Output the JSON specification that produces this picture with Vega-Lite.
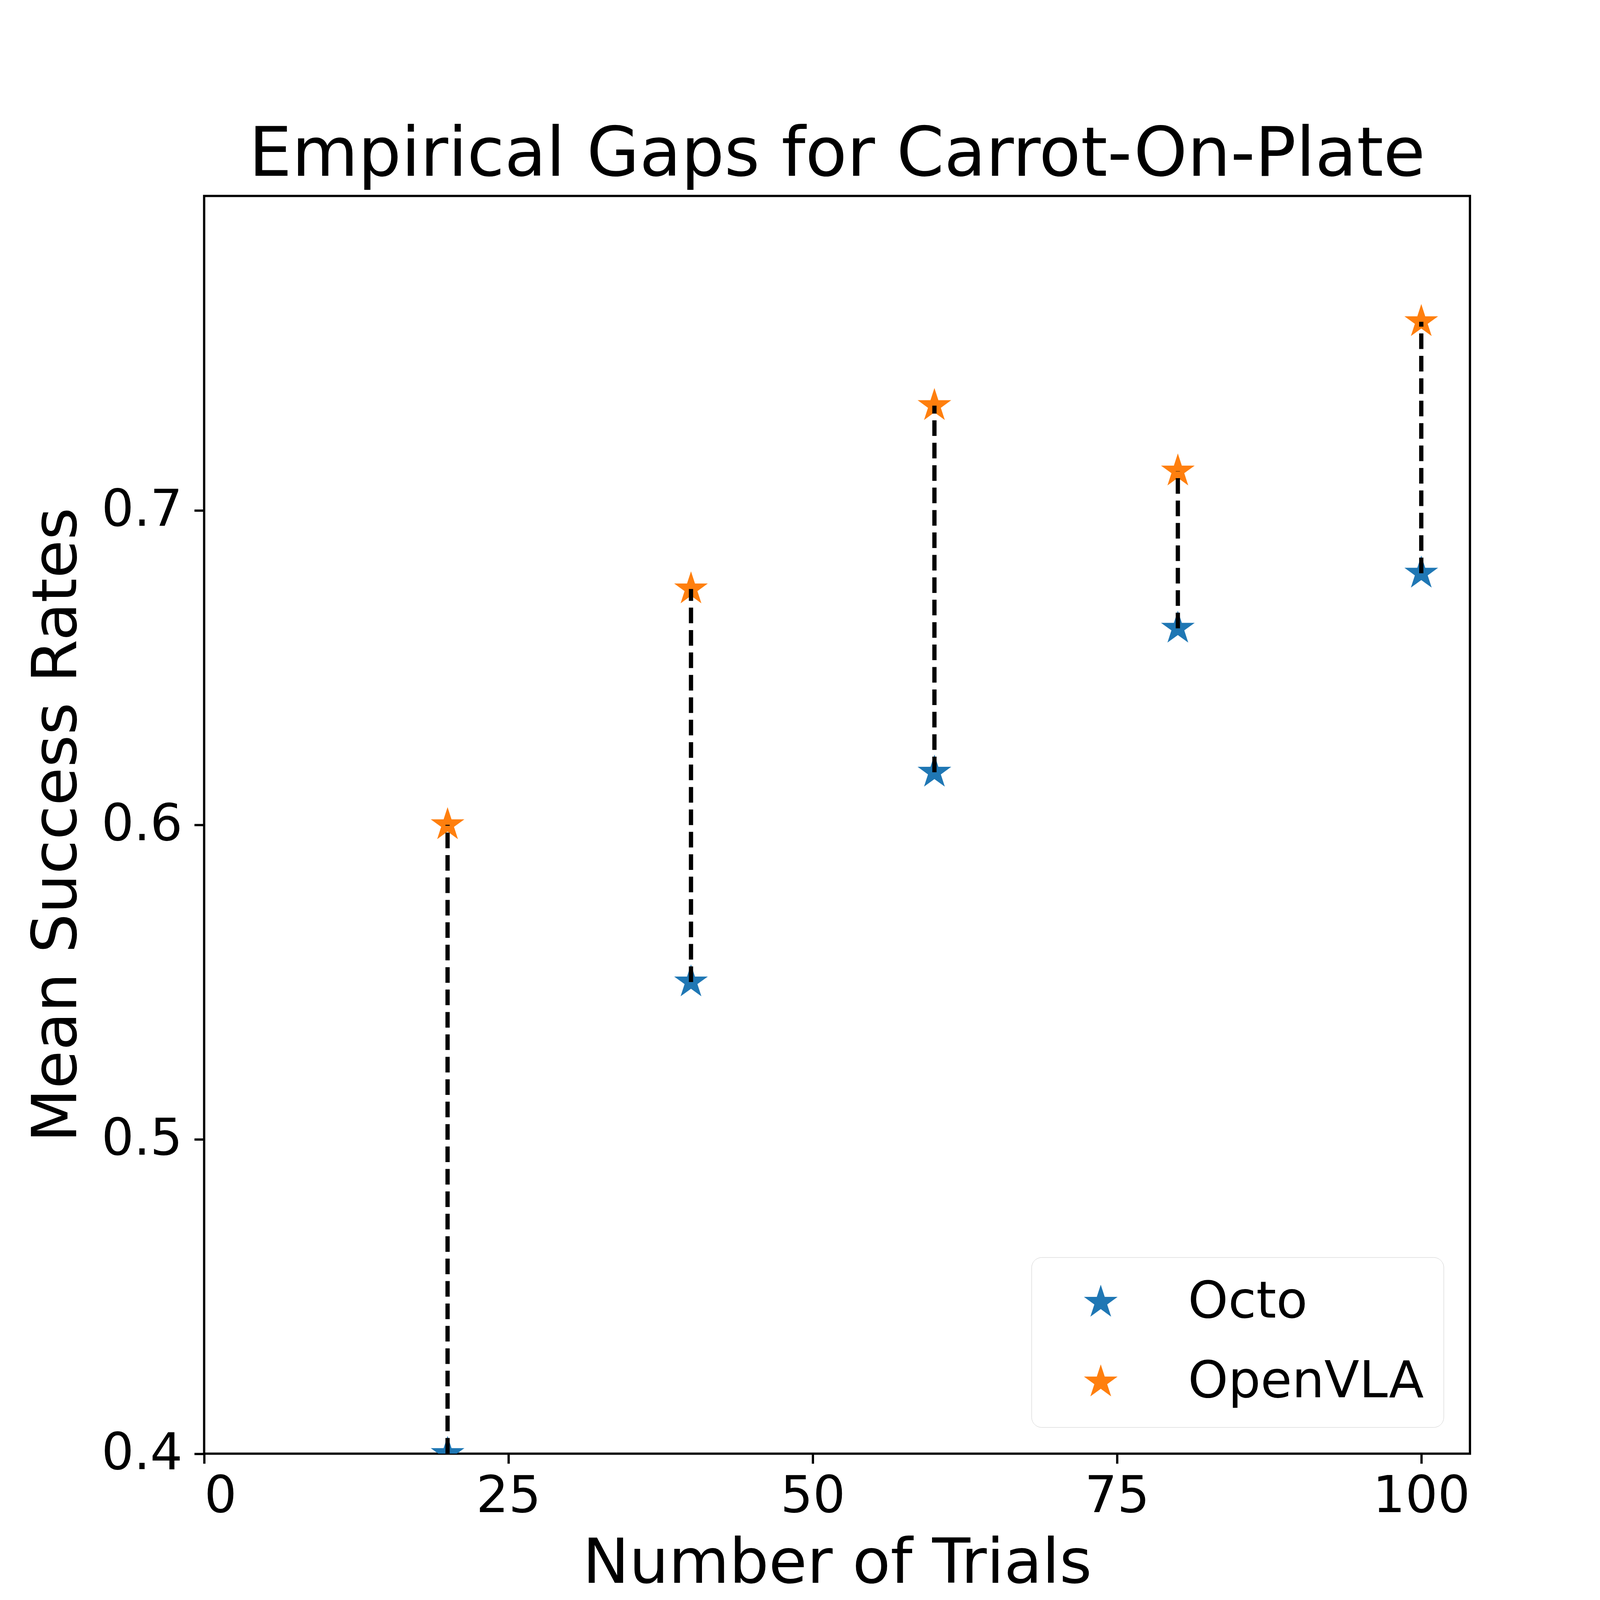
{
  "$schema": "https://vega.github.io/schema/vega-lite/v6.json",
  "width": 3240.5,
  "height": 3219.6,
  "autosize": {"type": "none"},
  "padding": {"left": 522.6, "top": 501.7, "right": 418, "bottom": 460},
  "background": "white",
  "config": {
    "font": "DejaVu Sans",
    "view": {"stroke": "black", "strokeWidth": 5.8},
    "axis": {
      "domain": false,
      "grid": false,
      "ticks": true,
      "tickColor": "black",
      "tickWidth": 5.8,
      "tickSize": 25.3,
      "labelFont": "DejaVu Sans",
      "labelFontSize": 130.7,
      "labelColor": "black",
      "labelLimit": 0,
      "titleFont": "DejaVu Sans",
      "titleFontSize": 159.4,
      "titleFontWeight": "normal",
      "titleColor": "black",
      "titleLimit": 0
    },
    "legend": {
      "labelFont": "DejaVu Sans",
      "labelFontSize": 130.7,
      "labelColor": "black",
      "labelLimit": 0
    }
  },
  "title": {
    "text": "Empirical Gaps for Carrot-On-Plate",
    "fontSize": 174.2,
    "font": "DejaVu Sans",
    "fontWeight": "normal",
    "color": "black",
    "anchor": "middle",
    "baseline": "alphabetic",
    "offset": -122,
    "limit": 0
  },
  "data": {
    "values": [
      {"trials": 20, "Octo": 0.4, "OpenVLA": 0.6},
      {"trials": 40, "Octo": 0.55, "OpenVLA": 0.675},
      {"trials": 60, "Octo": 0.6167, "OpenVLA": 0.7333},
      {"trials": 80, "Octo": 0.6625, "OpenVLA": 0.7125},
      {"trials": 100, "Octo": 0.68, "OpenVLA": 0.76}
    ]
  },
  "layer": [
    {
      "transform": [{"fold": ["Octo", "OpenVLA"], "as": ["model", "rate"]}],
      "mark": {
        "type": "point",
        "filled": true,
        "opacity": 1,
        "clip": true,
        "size": 8208,
        "shape": "M0,-1L0.2245,-0.309L0.9511,-0.309L0.3633,0.118L0.5878,0.809L0,0.382L-0.5878,0.809L-0.3633,0.118L-0.9511,-0.309L-0.2245,-0.309Z"
      },
      "encoding": {
        "x": {
          "field": "trials",
          "type": "quantitative",
          "scale": {"domain": [0, 104], "nice": false, "zero": false},
          "axis": {"values": [0, 25, 50, 75, 100], "format": "d", "labelPadding": 21.4, "title": "Number of Trials", "titlePadding": 28.5}
        },
        "y": {
          "field": "rate",
          "type": "quantitative",
          "scale": {"domain": [0.4, 0.8], "nice": false, "zero": false},
          "axis": {"values": [0.4, 0.5, 0.6, 0.7], "format": ".1f", "labelPadding": 30.3, "title": "Mean Success Rates", "titlePadding": 95}
        },
        "color": {
          "field": "model",
          "type": "nominal",
          "scale": {"domain": ["Octo", "OpenVLA"], "range": ["#1f77b4", "#ff7f0e"]},
          "legend": {
            "title": null,
            "orient": "bottom-right",
            "offset": 68,
            "padding": 50,
            "fillColor": "rgba(255,255,255,0.8)",
            "strokeColor": "#cccccc",
            "cornerRadius": 26,
            "symbolSize": 8208,
            "symbolType": "M0,-1L0.2245,-0.309L0.9511,-0.309L0.3633,0.118L0.5878,0.809L0,0.382L-0.5878,0.809L-0.3633,0.118L-0.9511,-0.309L-0.2245,-0.309Z",
            "symbolStrokeWidth": 0,
            "symbolOffset": 62,
            "labelOffset": 158,
            "rowPadding": 72,
            "labelLimit": 0,
            "encode": {"legend": {"update": {"strokeWidth": {"value": 7}}}}
          }
        }
      }
    },
    {
      "mark": {"type": "rule", "color": "black", "strokeWidth": 10.9, "strokeDash": [40, 17.4], "clip": true},
      "encoding": {
        "x": {"field": "trials", "type": "quantitative"},
        "y": {"field": "Octo", "type": "quantitative"},
        "y2": {"field": "OpenVLA"}
      }
    }
  ]
}
